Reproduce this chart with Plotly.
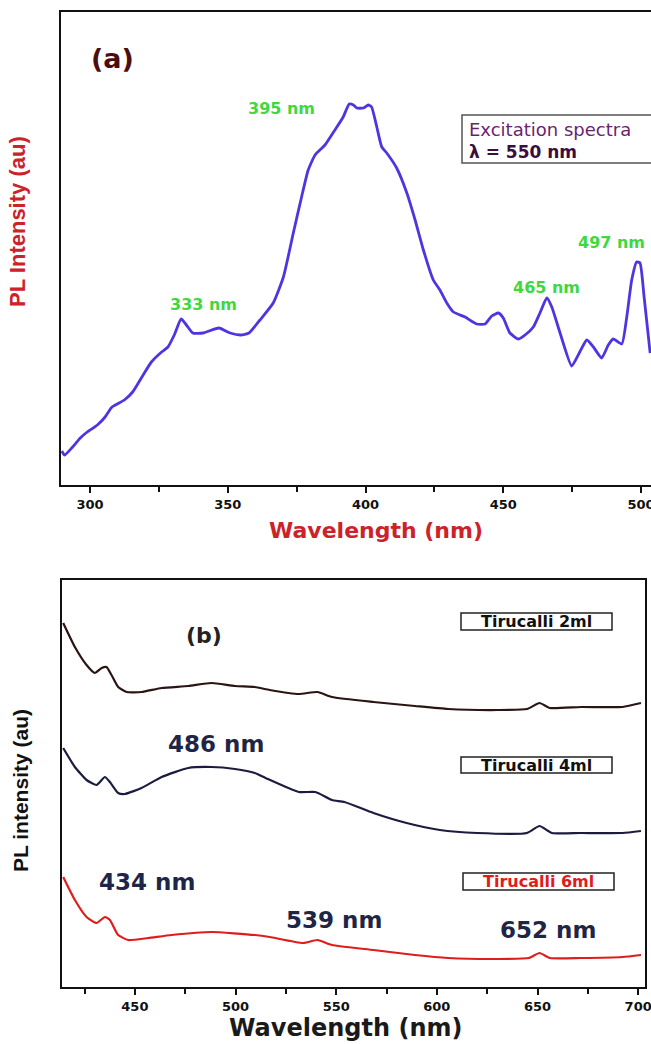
import plotly.graph_objects as go

W, H = 651, 1044

# ---------------- data: panel (a) excitation spectrum ----------------
a_wavelength = [289.8, 290.8, 293.7, 296.5, 299.0, 302.7, 305.5, 308.0, 312.5, 315.5,
                319.3, 322.3, 326.0, 328.3, 330.6, 333.1, 335.0, 337.3, 341.0, 346.8,
                350.9, 354.7, 357.7, 361.7, 366.5, 370.2, 373.8, 376.8, 379.2, 381.7,
                385.3, 388.9, 391.9, 394.1, 395.6, 396.8, 399.2, 401.0, 402.2, 404.1,
                405.9, 407.7, 411.3, 415.0, 418.0, 421.0, 424.6, 427.0, 429.5, 431.9,
                436.1, 440.4, 443.4, 445.8, 448.2, 450.0, 452.4, 455.5, 457.9, 460.9,
                463.3, 465.8, 467.6, 470.6, 474.8, 477.2, 480.3, 482.7, 485.7, 488.1,
                489.9, 493.0, 494.8, 496.6, 498.4, 499.6, 501.1, 503.3]
a_intensity = [32, 28, 36, 45, 51, 58, 66, 76, 83, 91,
               108, 121, 131, 136, 148, 164, 158, 150, 150, 155,
               150, 148, 150, 163, 180, 206, 250, 286, 313, 328,
               338, 353, 366, 379, 378, 375, 375, 378, 376, 356,
               336, 330, 315, 290, 263, 233, 203, 193, 180, 171,
               166, 159, 159, 167, 170, 165, 150, 144, 148, 156,
               170, 185, 176, 150, 117, 128, 143, 136, 125, 138,
               144, 139, 166, 203, 221, 220, 186, 130]
a_peak_labels = ["395 nm", "333 nm", "465 nm", "497 nm"]

# ---------------- data: panel (b) emission spectra ----------------
b2_wavelength = [414.4, 420.2, 426.0, 430.1, 433.5, 435.9, 438.4, 441.7, 445.9, 453.3,
                 463.3, 476.5, 488.1, 499.7, 509.6, 517.0, 531.4, 540.7, 547.9, 568.5,
                 589.1, 605.6, 630.3, 644.8, 651.0, 656.1, 671.6, 692.2, 701.4]
b2_intensity = [364, 340, 322, 314, 319, 320, 312, 300, 295, 295,
                299, 301, 304, 301, 300, 297, 293, 295, 290, 285,
                281, 278, 277, 278, 284, 279, 280, 280, 284]

b4_wavelength = [414.4, 420.2, 426.0, 431.0, 435.1, 437.6, 441.7, 445.0, 453.3, 463.3,
                 476.5, 488.1, 499.7, 509.6, 514.9, 531.4, 539.7, 547.9, 554.1, 568.5,
                 585.0, 601.5, 620.0, 644.8, 651.0, 657.2, 671.6, 692.2, 701.4]
b4_intensity = [239, 220, 207, 202, 210, 205, 194, 193, 199, 210,
                219, 220, 218, 214, 209, 195, 195, 187, 185, 174,
                164, 157, 154, 154, 161, 154, 154, 154, 156]

b6_wavelength = [414.4, 420.2, 426.0, 431.0, 435.1, 437.6, 441.7, 446.7, 456.6, 468.2,
                 488.1, 509.6, 517.0, 533.5, 540.7, 547.9, 568.5, 589.1, 605.6, 630.3,
                 645.8, 651.0, 656.1, 671.6, 692.2, 701.4]
b6_intensity = [110, 87, 70, 64, 70, 67, 52, 47, 49, 52,
                55, 52, 50, 44, 47, 42, 37, 32, 29, 28,
                29, 34, 29, 29, 30, 32]

b_series_names = ["Tirucalli 2ml", "Tirucalli 4ml", "Tirucalli 6ml"]
b_peak_labels = ["486 nm", "434 nm", "539 nm", "652 nm"]

# ---------------- helpers ----------------
def px(x):
    return x / W

def py(y):
    return 1 - y / H

BOLD_WIDE = "DejaVu Sans"
ARIAL = "Liberation Sans"

fig = go.Figure()

fig.add_trace(go.Scatter(x=a_wavelength, y=a_intensity, mode="lines",
                         line=dict(color="#5034e2", width=2.8, shape="spline", smoothing=0.5),
                         xaxis="x", yaxis="y", showlegend=False))

b_colors = ["#2a1414", "#1c1c40", "#e01c1c"]
for wl, it, name, col in zip([b2_wavelength, b4_wavelength, b6_wavelength],
                             [b2_intensity, b4_intensity, b6_intensity],
                             b_series_names, b_colors):
    fig.add_trace(go.Scatter(x=wl, y=it, mode="lines", name=name,
                             line=dict(color=col, width=2.2, shape="spline", smoothing=0.5),
                             xaxis="x2", yaxis="y2", showlegend=False))

tickfont = dict(family=BOLD_WIDE, size=13, color="#111", weight="bold")

fig.update_layout(
    width=W, height=H, autosize=False,
    margin=dict(l=0, r=0, t=0, b=0, pad=0, autoexpand=False),
    paper_bgcolor="white", plot_bgcolor="white",
    xaxis=dict(domain=[px(61), 1.0], range=[289.5, 503.6], anchor="y", automargin=False,
               tick0=300, dtick=50, ticks="outside", ticklen=6, tickwidth=2,
               ticklabeloverflow="allow",
               tickcolor="#111", showline=True, linecolor="#111", linewidth=2,
               mirror=True, showgrid=False, zeroline=False, tickfont=tickfont,
               minor=dict(dtick=25, ticks="outside", ticklen=5, tickwidth=2, tickcolor="#111")),
    yaxis=dict(domain=[py(485), py(12)], range=[-2, 471], anchor="x", automargin=False,
               showticklabels=False, ticks="", showline=True, linecolor="#111",
               linewidth=2, mirror=False, showgrid=False, zeroline=False),
    xaxis2=dict(domain=[px(62), px(645)], range=[413.8, 703.4], anchor="y2", automargin=False,
                tick0=450, dtick=50, ticks="outside", ticklen=6, tickwidth=2,
                ticklabeloverflow="allow",
                tickcolor="#111", showline=True, linecolor="#111", linewidth=2,
                mirror=True, showgrid=False, zeroline=False, tickfont=tickfont,
                minor=dict(dtick=25, ticks="outside", ticklen=5, tickwidth=2, tickcolor="#111")),
    yaxis2=dict(domain=[py(987), py(580)], range=[0, 407], anchor="x2", automargin=False,
                showticklabels=False, ticks="", showline=True, linecolor="#111",
                linewidth=2, mirror=True, showgrid=False, zeroline=False),
)

ann = []

def text(x, y, s, size, color, family=BOLD_WIDE, weight="bold", angle=0, xanchor="center"):
    ann.append(dict(x=px(x), y=py(y), xref="paper", yref="paper", text=s,
                    showarrow=False, xanchor=xanchor, yanchor="middle",
                    textangle=angle,
                    font=dict(family=family, size=size, color=color, weight=weight)))

# panel (a)
text(112, 58, "(a)", 27, "#4a0e0e")
green = "#3fd83f"
for lbl, (x, y) in zip(a_peak_labels, [(281, 109), (203, 304), (546, 287), (611, 243)]):
    text(x, y, lbl, 16, green)
text(467, 130, "Excitation spectra", 18, "#6a1f70", weight="normal", xanchor="left")
text(467, 152, "λ = 550 nm", 17, "#3a0f3f", xanchor="left")
text(376, 530, "Wavelength (nm)", 22, "#cc2229")
text(17, 222, "PL Intensity (au)", 22, "#cc2229", family=ARIAL, angle=-90)

# panel (b)
text(204, 635, "(b)", 22, "#222")
navy = "#1f2547"
for lbl, (x, y) in zip(b_peak_labels, [(216, 744), (147, 882), (334, 920), (548, 930)]):
    text(x, y, lbl, 23, navy)
box_centers = [(536.5, 621.5), (536.5, 765), (538.5, 881.5)]
box_text_colors = ["#111", "#111", "#e01c1c"]
for name, (x, y), c in zip(b_series_names, box_centers, box_text_colors):
    text(x, y, name, 16, c)
text(345, 1028, "Wavelength (nm)", 24, "#1a1a1a")
text(20, 791, "PL intensity (au)", 21, "#111", family=ARIAL, angle=-90)

fig.update_layout(annotations=ann)

shapes = []
# excitation box (cut by the right edge)
shapes.append(dict(type="rect", xref="paper", yref="paper",
                   x0=px(462), x1=px(670), y0=py(163), y1=py(115),
                   line=dict(color="#555", width=1.5), fillcolor="rgba(0,0,0,0)"))
for (x0, x1, y0, y1) in [(461, 612, 613, 630), (461, 612, 757, 773), (463, 614, 873, 890)]:
    shapes.append(dict(type="rect", xref="paper", yref="paper",
                       x0=px(x0), x1=px(x1), y0=py(y1), y1=py(y0),
                       line=dict(color="#222", width=1.5), fillcolor="rgba(0,0,0,0)"))
fig.update_layout(shapes=shapes)

fig.write_html("out.html")
